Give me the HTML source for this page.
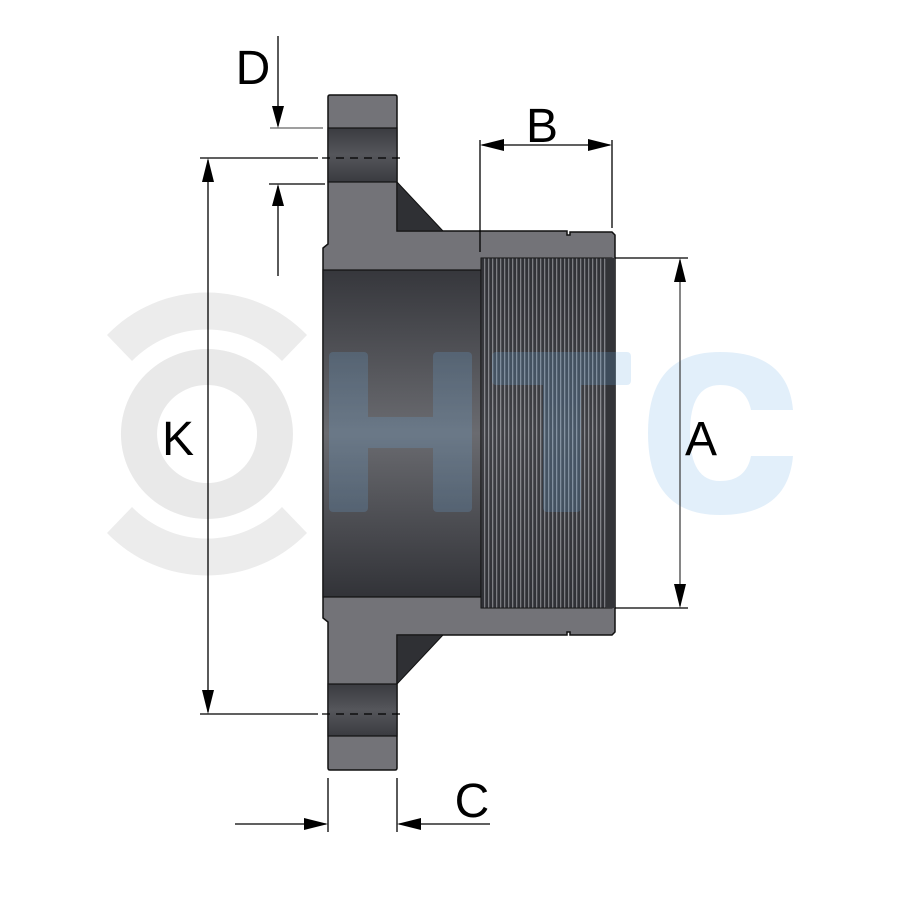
<!DOCTYPE html>
<html><head><meta charset="utf-8"><style>body{margin:0;background:#fff}svg{display:block}</style></head>
<body>
<svg width="900" height="900" viewBox="0 0 900 900" xmlns="http://www.w3.org/2000/svg" font-family="Liberation Sans, sans-serif">
<defs>
<linearGradient id="bore" x1="0" y1="0" x2="0" y2="1">
<stop offset="0" stop-color="#36373c"/><stop offset="0.5" stop-color="#6a6b70"/><stop offset="1" stop-color="#323338"/></linearGradient>
<linearGradient id="hole" x1="0" y1="0" x2="0" y2="1">
<stop offset="0" stop-color="#3a3b40"/><stop offset="0.5" stop-color="#55565b"/><stop offset="1" stop-color="#3a3b40"/></linearGradient>
<pattern id="thr" width="4" height="10" patternUnits="userSpaceOnUse">
<rect width="4" height="10" fill="#2e2f34"/><rect x="0" width="1.3" height="10" fill="#9a9ba0"/></pattern>
</defs>
<!-- watermark ring -->
<g fill="#ececec">
<path d="M207 349 A86 85 0 1 1 206.9 349 Z M207 385 A50 49 0 1 0 207.1 385 Z" fill-rule="evenodd" fill="#e9e9e9"/>
<path d="M107 335 A139 139 0 0 1 307 335 L282 361 A105 105 0 0 0 132 361 Z"/>
<path d="M107 533 A139 139 0 0 0 307 533 L282 507 A105 105 0 0 1 132 507 Z"/>
</g>
<!-- body -->
<path d="M328 97 Q328 95 330 95 L395 95 Q397 95 397 97 L397 231 L567 231 L567 235 L570 235 L570 232 L612 232 L615 235 L615 632 L612 635 L570 635 L570 632 L567 632 L567 635 L397 635 L397 768 Q397 770 395 770 L330 770 Q328 770 328 768 L328 622 L323 618 L323 248 L328 244 Z" fill="#737378" stroke="#111" stroke-width="1.5"/>
<rect x="328" y="128" width="69" height="54" fill="url(#hole)" stroke="#111" stroke-width="1.2"/>
<rect x="328" y="684" width="69" height="52" fill="url(#hole)" stroke="#111" stroke-width="1.2"/>
<path d="M397 182 L443 231 L397 231 Z" fill="#2f3034" stroke="#111" stroke-width="1"/>
<path d="M397 684 L443 635 L397 635 Z" fill="#2f3034" stroke="#111" stroke-width="1"/>
<rect x="323" y="270" width="158" height="327" fill="url(#bore)" stroke="#111" stroke-width="1.2"/>
<rect x="481" y="258" width="131" height="350" fill="url(#thr)" stroke="#111" stroke-width="1"/>
<rect x="481" y="258" width="131" height="350" fill="url(#bore)" opacity="0.3"/>
<rect x="606" y="258" width="9" height="350" fill="#333438"/>
<!-- HTC letters -->
<g fill="rgb(110,175,230)" opacity="0.2">
<rect x="329" y="352" width="39" height="160" rx="4"/><rect x="433" y="352" width="39" height="160" rx="4"/><rect x="368" y="417" width="65" height="31"/>
<rect x="492" y="352" width="139" height="33" rx="4"/><rect x="543" y="352" width="38" height="160" rx="4"/>
<path d="M793 410 L751 410 Q746 385 720 385 Q690 385 690 433 Q690 481 720 481 Q746 481 751 456 L793 456 Q788 515 720 515 Q648 515 648 433 Q648 352 720 352 Q788 352 793 410 Z"/>
</g>
<!-- dimension lines -->
<g stroke="#000" stroke-width="1.3" fill="none">
<line x1="200" y1="158" x2="318" y2="158"/><line x1="322" y1="158" x2="405" y2="158" stroke-dasharray="8,6"/>
<line x1="200" y1="714" x2="318" y2="714"/><line x1="322" y1="714" x2="405" y2="714" stroke-dasharray="8,6"/>
<line x1="208" y1="160" x2="208" y2="712"/>
<line x1="278" y1="36" x2="278" y2="126"/><line x1="270" y1="128" x2="323" y2="128" stroke="#666"/>
<line x1="278" y1="186" x2="278" y2="276"/><line x1="269" y1="184" x2="325" y2="184"/>
<line x1="480" y1="140" x2="480" y2="252"/><line x1="612" y1="140" x2="612" y2="228"/>
<line x1="482" y1="145" x2="610" y2="145"/>
<line x1="615" y1="258" x2="688" y2="258"/><line x1="615" y1="608" x2="688" y2="608"/>
<line x1="680" y1="260" x2="680" y2="606" stroke="#444"/>
<line x1="328" y1="778" x2="328" y2="832"/><line x1="397" y1="778" x2="397" y2="832"/>
<line x1="235" y1="824" x2="326" y2="824"/><line x1="399" y1="824" x2="490" y2="824"/>
</g>
<g fill="#000">
<path d="M208 158 L202 182 L214 182 Z"/><path d="M208 714 L202 690 L214 690 Z"/>
<path d="M278 128 L272 106 L284 106 Z"/><path d="M278 184 L272 206 L284 206 Z"/>
<path d="M480 145 L504 139 L504 151 Z"/><path d="M612 145 L588 139 L588 151 Z"/>
<path d="M680 258 L674 282 L686 282 Z"/><path d="M680 608 L674 584 L686 584 Z"/>
<path d="M328 824 L304 818 L304 830 Z"/><path d="M397 824 L421 818 L421 830 Z"/>
</g>
<g font-size="48" fill="#000" text-anchor="middle">
<text x="253" y="84">D</text><text x="542" y="142">B</text>
<text x="178" y="455">K</text><text x="701" y="455">A</text><text x="472" y="817">C</text>
</g>
</svg>
</body></html>
